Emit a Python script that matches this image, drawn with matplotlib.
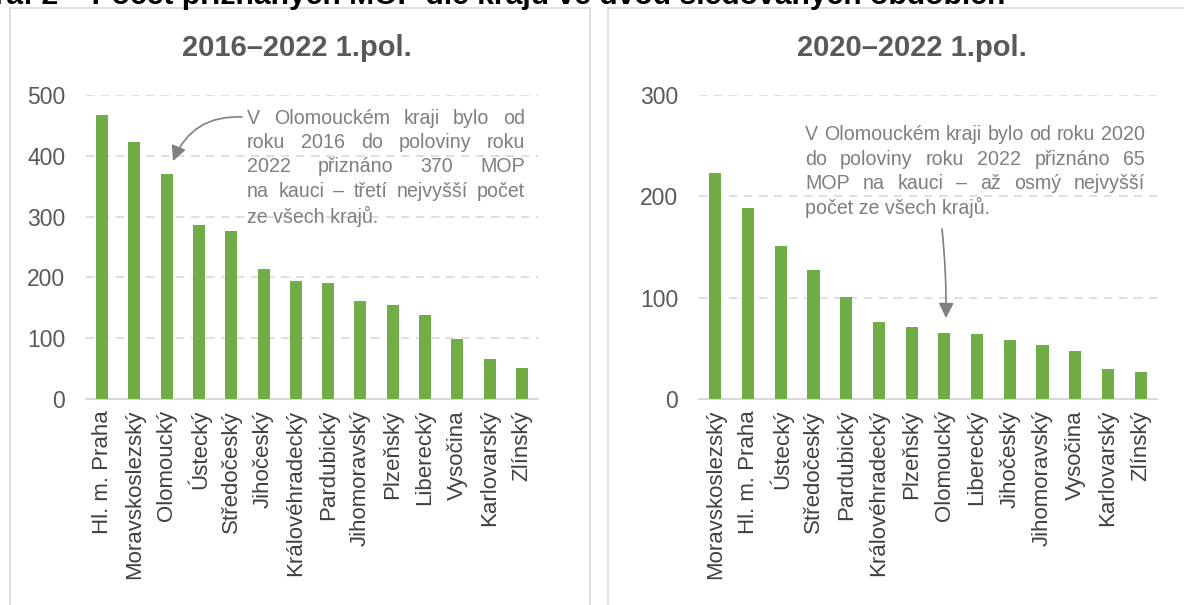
import matplotlib
matplotlib.use("Agg")
import matplotlib.pyplot as plt
from matplotlib.patches import Rectangle

plt.rcParams['font.family'] = ['Liberation Sans', 'DejaVu Sans']

# data
kraje_a = ['Hl. m. Praha', 'Moravskoslezský', 'Olomoucký', 'Ústecký', 'Středočeský',
           'Jihočeský', 'Královéhradecký', 'Pardubický', 'Jihomoravský', 'Plzeňský',
           'Liberecký', 'Vysočina', 'Karlovarský', 'Zlínský']
hodnoty_a = [467, 423, 370, 286, 276, 214, 194, 190, 161, 154, 138, 98, 66, 51]

kraje_b = ['Moravskoslezský', 'Hl. m. Praha', 'Ústecký', 'Středočeský', 'Pardubický',
           'Královéhradecký', 'Plzeňský', 'Olomoucký', 'Liberecký', 'Jihočeský',
           'Jihomoravský', 'Vysočina', 'Karlovarský', 'Zlínský']
hodnoty_b = [223, 188, 151, 127, 101, 76, 71, 65, 64, 58, 53, 47, 30, 27]

title_a = '2016–2022 1.pol.'
title_b = '2020–2022 1.pol.'
ticks_a = [0, 100, 200, 300, 400, 500]
ticks_b = [0, 100, 200, 300]
heading = 'Graf 2 – Počet přiznaných MOP dle krajů ve dvou sledovaných obdobích'

note_a = ['V Olomouckém kraji bylo od', 'roku 2016 do poloviny roku',
          '2022 přiznáno 370 MOP', 'na kauci – třetí nejvyšší počet', 'ze všech krajů.']
note_b = ['V Olomouckém kraji bylo od roku 2020', 'do poloviny roku 2022 přiznáno 65',
          'MOP na kauci – až osmý nejvyšší', 'počet ze všech krajů.']

W, H = 1184, 605
fig = plt.figure(figsize=(W / 100, H / 100), dpi=100)
renderer = fig.canvas.get_renderer()

GREEN = '#70ad47'
GRID = '#d9d9d9'
TXT = '#595959'
NOTE = '#7f7f7f'


def px(x, y):
    return x / W, 1 - y / H


def width_at(s, size, **kw):
    t = fig.text(0, 0, s, fontsize=size, **kw)
    w = t.get_window_extent(renderer).width
    t.remove()
    return w


# panel frames
fig.patches.append(Rectangle(px(10, 620), 580 / W, 612 / H, transform=fig.transFigure,
                             fill=False, ec=GRID, lw=1.2))
fig.patches.append(Rectangle(px(608, 620), 600 / W, 612 / H, transform=fig.transFigure,
                             fill=False, ec=GRID, lw=1.2))

# heading, cropped at the top edge as in the reference
hsize = 10 * 1037 / width_at(heading, 10, fontweight='bold')
fig.text(1005 / W, 1 - 3.5 / H, heading, ha='right', va='baseline', fontsize=hsize,
         fontweight='bold', color='black')


def panel(left, right, top, bottom, kraje, hodnoty, ticks, title, tx):
    x0, y0 = px(left, bottom)
    ax = fig.add_axes([x0, y0, (right - left) / W, (bottom - top) / H])
    ax.bar(range(len(kraje)), hodnoty, width=0.37, color=GREEN, zorder=3)
    ax.set_xlim(-0.5, len(kraje) - 0.5)
    ax.set_ylim(0, ticks[-1])
    ax.set_yticks(ticks)
    ax.set_xticks(range(len(kraje)))
    ax.set_xticklabels(kraje, rotation=90, fontsize=16, color='#404040')
    ax.tick_params(axis='y', length=0, pad=15, labelsize=16.5, labelcolor=TXT)
    ax.tick_params(axis='x', length=0, pad=8)
    for s in ['top', 'right', 'left']:
        ax.spines[s].set_visible(False)
    ax.spines['bottom'].set_color(GRID)
    ax.spines['bottom'].set_linewidth(1.5)
    ax.yaxis.grid(True, color=GRID, ls=(0, (5, 4)), lw=1.2, zorder=0)
    ax.set_axisbelow(True)
    fig.text(tx / W, 1 - 48 / H, title, ha='center', va='center', fontsize=21,
             fontweight='bold', color=TXT)
    return ax


panel(86, 538, 95, 399, kraje_a, hodnoty_a, ticks_a, title_a, 297)
panel(699, 1157, 95, 399, kraje_b, hodnoty_b, ticks_b, title_b, 912)

# note text size: first line of the right note sits at its natural width
nsize = 10 * 340 / width_at(note_b[0], 10)


def justify(lines, x0, x1, y_first, step, size):
    for i, line in enumerate(lines):
        y = 1 - (y_first + i * step) / H
        words = line.split(' ')
        if i == len(lines) - 1:
            fig.text(x0 / W, y, line, ha='left', va='center', fontsize=size, color=NOTE)
            continue
        objs = [fig.text(0, y, w, ha='left', va='center', fontsize=size, color=NOTE) for w in words]
        widths = [o.get_window_extent(renderer).width for o in objs]
        gap = (x1 - x0 - sum(widths)) / max(len(words) - 1, 1)
        x = x0
        for o, w in zip(objs, widths):
            o.set_x(x / W)
            x += w + gap


justify(note_a, 247, 525, 118, 24.5, nsize)
justify(note_b, 805, 1145, 135, 24.3, nsize)

# arrows
arrow = dict(arrowstyle='-|>,head_length=0.9,head_width=0.45', color=NOTE, lw=1.2,
             shrinkA=0, shrinkB=0)
fig.add_artist(plt.Annotation('', xy=(173, H - 161), xytext=(242, H - 117),
                              xycoords='figure pixels', textcoords='figure pixels',
                              arrowprops=dict(arrow, connectionstyle='arc3,rad=0.35')))
fig.add_artist(plt.Annotation('', xy=(946, H - 318), xytext=(942, H - 229),
                              xycoords='figure pixels', textcoords='figure pixels',
                              arrowprops=dict(arrow, connectionstyle='arc3,rad=-0.03')))

fig.savefig('out.png', dpi=100)
